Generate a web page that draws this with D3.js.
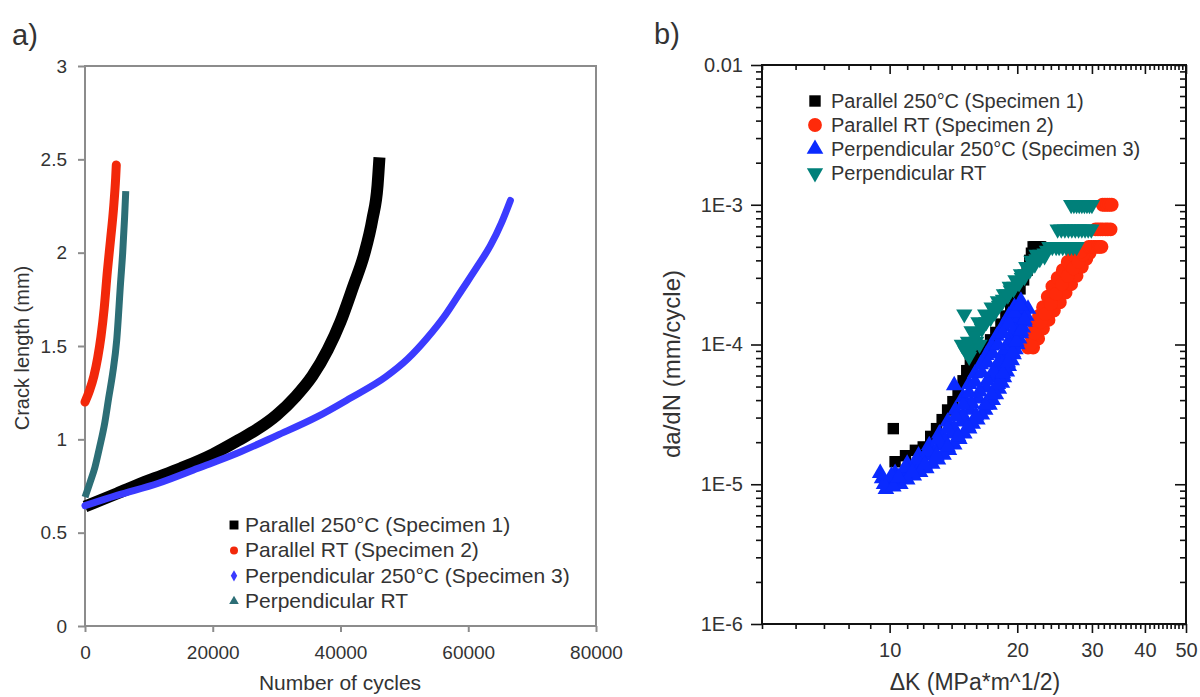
<!DOCTYPE html>
<html>
<head>
<meta charset="utf-8">
<script src="https://cdn.jsdelivr.net/npm/d3@7"></script>
<style>
  body { margin: 0; background: #fff; }
  svg { display: block; font-family: "Liberation Sans", Arial, sans-serif; }
</style>
</head>
<body>
<svg id="chart" width="1200" height="697"></svg>
<script>
// series names (same four specimens in both panels)
const seriesNames = ['Parallel 250°C (Specimen 1)', 'Parallel RT (Specimen 2)',
  'Perpendicular 250°C (Specimen 3)', 'Perpendicular RT'];

// panel a: [cycles, crack length mm]
const aParallel250 = [[0,0.64],[5000,0.71],[10000,0.78],[15000,0.845],[20000,0.92],[24000,0.995],
  [27000,1.055],[30000,1.13],[33000,1.23],[35600,1.34],[38000,1.48],[40000,1.63],[42000,1.82],
  [43700,1.99],[45000,2.18],[45800,2.36],[46100,2.51]];
const aParallelRT = [[0,1.20],[700,1.26],[1400,1.34],[2000,1.44],[2500,1.55],[3000,1.70],
  [3500,1.90],[4000,2.07],[4500,2.25],[4800,2.40],[4900,2.47]];
const aPerp250 = [[0,0.645],[5000,0.70],[11500,0.765],[17700,0.845],[23800,0.925],[30000,1.02],
  [36300,1.12],[41500,1.22],[47100,1.335],[50500,1.43],[53500,1.54],[56500,1.67],[59000,1.80],
  [61500,1.93],[63500,2.04],[65200,2.16],[66600,2.28]];
const aPerpRT = [[0,0.69],[800,0.77],[1550,0.85],[2300,0.96],[3100,1.09],[3700,1.22],[4340,1.355],
  [4960,1.53],[5570,1.84],[5900,2.0],[6200,2.19],[6380,2.33]];
const aXTicks = [0, 20000, 40000, 60000, 80000];
const aYTicks = [0, 0.5, 1, 1.5, 2, 2.5, 3];

// panel b: [dK MPa*m^1/2, da/dN mm/cycle]
const bParallel250 = [[10.2,2.5e-5],[10.3,1.45e-5],[10.9,1.6e-5],[11.5,1.75e-5],[12.0,1.85e-5],[12.5,2.2e-5],
  [12.9,2.5e-5],[13.3,2.9e-5],[13.7,3.4e-5],[14.1,3.9e-5],[14.5,4.6e-5],[14.9,5.5e-5],[15.2,6.5e-5],
  [15.5,7.3e-5],[15.9,7.8e-5],[16.3,8.4e-5],[16.8,9.5e-5],[17.3,1.08e-4],[17.8,1.22e-4],[18.3,1.4e-4],
  [18.8,1.6e-4],[19.3,1.85e-4],[19.8,2.15e-4],[20.3,2.5e-4],[20.7,2.9e-4],[21.1,3.4e-4],[21.4,4.0e-4],
  [21.6,4.5e-4],[21.8,5e-4],[22.0,5e-4],[22.3,5e-4],[22.5,5e-4],[22.7,5e-4]];
const bParallelRT = [[21.2,9.5e-5],[21.6,1.15e-4],[22.0,1.35e-4],[22.5,1.6e-4],[23.0,1.85e-4],[23.6,2.2e-4],
  [24.2,2.6e-4],[24.9,3.0e-4],[25.6,3.4e-4],[26.3,3.9e-4],[27.0,4.4e-4],
  [21.8,9.5e-5],[22.4,1.1e-4],[23.0,1.3e-4],[23.7,1.5e-4],[24.4,1.75e-4],[25.2,2.0e-4],[26.0,2.35e-4],
  [26.8,2.7e-4],[27.6,3.1e-4],[28.4,3.6e-4],[29.1,4.1e-4],[29.6,4.5e-4],
  [21.5,1.0e-4],[22.0,1.2e-4],[22.7,1.45e-4],[23.3,1.65e-4],[24.0,1.95e-4],[24.7,2.3e-4],[25.5,2.7e-4],
  [26.3,3.1e-4],[27.1,3.5e-4],[27.9,3.9e-4],[28.6,4.4e-4],[28.2,4.6e-4],
  [29.5,5e-4],[29.9,5e-4],[30.3,5e-4],[30.6,5e-4],[31.0,5e-4],[31.3,5e-4],[31.6,5e-4],
  [30.6,6.67e-4],[31.0,6.67e-4],[31.4,6.67e-4],[31.8,6.67e-4],[32.3,6.67e-4],[32.7,6.67e-4],[33.2,6.67e-4],
  [31.8,1e-3],[32.2,1e-3],[32.6,1e-3],[33.0,1e-3],[33.4,1e-3]];
const bPerp250 = [[9.6,1.1e-5],[10.3,1.2e-5],[11.0,1.4e-5],[11.7,1.6e-5],[12.4,1.9e-5],[13.1,2.3e-5],
  [13.7,2.8e-5],[14.3,3.4e-5],[14.9,4.2e-5],[15.4,5.2e-5],[15.9,6.2e-5],[16.4,7.2e-5],[16.9,8.4e-5],
  [17.4,9.8e-5],[17.9,1.15e-4],[18.5,1.35e-4],[19.1,1.6e-4],[19.7,1.85e-4],[20.4,2.05e-4],
  [9.8,9.2e-6],[10.6,1.0e-5],[11.4,1.15e-5],[12.2,1.3e-5],[13.0,1.5e-5],[13.8,1.75e-5],[14.6,2.1e-5],
  [15.4,2.5e-5],[16.1,2.9e-5],[16.8,3.4e-5],[17.5,4.0e-5],[18.1,4.8e-5],[18.6,5.8e-5],[19.1,7.0e-5],
  [19.6,8.5e-5],[20.0,1.0e-4],[20.4,1.2e-4],[20.8,1.45e-4],[21.2,1.8e-4],
  [10.0,1.05e-5],[10.8,1.2e-5],[11.6,1.35e-5],[12.4,1.6e-5],[13.2,1.9e-5],[14.0,2.3e-5],[14.8,2.8e-5],
  [15.5,3.4e-5],[16.2,4.1e-5],[16.9,4.9e-5],[17.5,5.8e-5],[18.1,6.9e-5],[18.6,8.2e-5],[19.2,9.8e-5],
  [19.7,1.15e-4],[20.2,1.35e-4],[20.7,1.6e-4],
  [9.7,1.0e-5],[10.4,1.1e-5],[11.2,1.25e-5],[12.0,1.45e-5],[12.8,1.7e-5],[13.5,2.05e-5],[14.2,2.5e-5],
  [14.9,3.1e-5],[15.6,3.8e-5],[16.3,4.6e-5],[17.0,5.5e-5],[17.6,6.5e-5],[18.2,7.8e-5],[18.7,9.2e-5],
  [19.2,1.08e-4],[19.7,1.3e-4],[20.2,1.55e-4],[20.6,1.8e-4],
  [10.2,9.6e-6],[11.0,1.08e-5],[11.8,1.22e-5],[12.6,1.4e-5],[13.4,1.62e-5],[14.2,1.92e-5],[15.0,2.3e-5],
  [15.7,2.7e-5],[16.5,3.15e-5],[17.2,3.7e-5],[17.8,4.4e-5],[18.4,5.3e-5],[18.9,6.4e-5],[19.4,7.7e-5],
  [19.8,9.2e-5],[20.2,1.1e-4],[20.6,1.32e-4],[21.0,1.6e-4],
  [10.1,1.15e-5],[10.9,1.32e-5],[11.6,1.5e-5],[12.3,1.75e-5],[13.0,2.1e-5],[13.7,2.5e-5],[14.3,3.05e-5],
  [14.9,3.7e-5],[15.4,4.5e-5],[15.9,5.4e-5],[16.5,6.3e-5],[17.0,7.4e-5],[17.5,8.6e-5],[18.0,1.0e-4],
  [18.5,1.2e-4],[19.1,1.42e-4],[19.7,1.68e-4],[20.3,1.9e-4],
  [10.5,1.12e-5],[11.3,1.22e-5],[12.1,1.38e-5],[12.9,1.6e-5],[13.7,1.85e-5],[14.5,2.2e-5],[15.3,2.6e-5],
  [16.0,3.1e-5],[16.8,3.7e-5],[17.4,4.4e-5],[18.0,5.2e-5],[18.5,6.2e-5],[19.0,7.4e-5],[19.5,8.8e-5],
  [19.9,1.05e-4],[20.4,1.25e-4],[20.8,1.5e-4],
  [9.5,1.2e-5],[14.2,5.1e-5]];
const bPerpRT = [[15.0,1.65e-4],[14.8,1.0e-4],[15.1,9.0e-5],[15.4,8.2e-5],[15.7,9.5e-5],[16.0,1.05e-4],
  [16.3,1.0e-4],[16.0,1.2e-4],[16.5,1.3e-4],[16.9,1.45e-4],[17.3,1.55e-4],[17.7,1.7e-4],[18.1,1.9e-4],
  [18.5,2.1e-4],[18.9,2.3e-4],[19.3,2.45e-4],[19.7,2.6e-4],[20.1,2.8e-4],[20.5,3.0e-4],[20.9,3.2e-4],
  [21.3,3.5e-4],[21.7,3.8e-4],[22.2,4.1e-4],[22.7,4.4e-4],[23.2,4.5e-4],[23.5,4.7e-4],
  [15.6,1.25e-4],[16.2,1.45e-4],[16.8,1.65e-4],[17.4,1.85e-4],[18.0,2.05e-4],[18.6,2.3e-4],[19.2,2.6e-4],
  [19.8,2.9e-4],[20.4,3.2e-4],[21.0,3.6e-4],[21.6,4.0e-4],[22.2,4.4e-4],
  [15.3,1.05e-4],[15.9,1.15e-4],[16.6,1.38e-4],[17.2,1.6e-4],[17.8,1.8e-4],[18.4,2.0e-4],[19.0,2.25e-4],
  [19.6,2.5e-4],[20.2,2.75e-4],[20.8,3.05e-4],[21.4,3.4e-4],[22.0,3.75e-4],[22.6,4.1e-4],[23.2,4.3e-4],
  [23.8,5e-4],[24.2,5e-4],[24.7,5e-4],[25.1,5e-4],[25.6,5e-4],[26.1,5e-4],[26.6,5e-4],[27.1,5e-4],[27.6,5e-4],
  [24.9,6.67e-4],[25.4,6.67e-4],[25.9,6.67e-4],[26.4,6.67e-4],[26.9,6.67e-4],[27.4,6.67e-4],[27.9,6.67e-4],
  [28.4,6.67e-4],[28.9,6.67e-4],[29.4,6.67e-4],[29.9,6.67e-4],
  [26.8,1e-3],[27.2,1e-3],[27.6,1e-3],[28.0,1e-3],[28.4,1e-3],[28.8,1e-3],[29.2,1e-3],[29.6,1e-3],[30.0,1e-3]];
const bXMajor = [10, 20, 30, 40, 50];
const bYMajor = [1e-6, 1e-5, 1e-4, 1e-3, 1e-2];
const bYLabels = ['1E-6', '1E-5', '1E-4', '1E-3', '0.01'];

const svg = d3.select('#chart');
const textColor = '#333';

// ================= panel a =================
const xA = d3.scaleLinear().domain([0, 80000]).range([85, 596]);
const yA = d3.scaleLinear().domain([0, 3]).range([626, 66]);
const greyAxis = '#8c8c8c';

const gA = svg.append('g');

gA.append('g')
  .attr('transform', 'translate(0,626)')
  .call(d3.axisBottom(xA).tickValues(aXTicks).tickSize(6).tickPadding(14).tickFormat(d => d))
  .call(g => g.select('.domain').remove());
gA.append('g')
  .attr('transform', 'translate(85,0)')
  .call(d3.axisLeft(yA).tickValues(aYTicks).tickSize(7).tickPadding(11).tickFormat(d => d))
  .call(g => g.select('.domain').remove());
gA.selectAll('.tick line').attr('stroke', greyAxis).attr('stroke-width', 2);
gA.selectAll('.tick text').attr('fill', textColor).style('font-size', '19px')
  .style('font-family', '"Liberation Sans", Arial, sans-serif');

gA.append('rect')
  .attr('x', xA(0)).attr('y', yA(3))
  .attr('width', xA(80000) - xA(0)).attr('height', yA(0) - yA(3))
  .attr('fill', 'none').attr('stroke', greyAxis).attr('stroke-width', 2);

const lineA = d3.line().x(d => xA(d[0])).y(d => yA(d[1])).curve(d3.curveMonotoneX);
const aCurves = [
  { data: aParallel250, color: '#000000', width: 12, cap: 'butt' },
  { data: aParallelRT, color: '#f2280a', width: 9, cap: 'round' },
  { data: aPerp250, color: '#3b3bff', width: 7, cap: 'round' },
  { data: aPerpRT, color: '#2c6e76', width: 7, cap: 'butt' }
];
gA.selectAll('path.curve')
  .data(aCurves)
  .join('path')
  .attr('class', 'curve')
  .attr('d', d => lineA(d.data))
  .attr('fill', 'none')
  .attr('stroke', d => d.color)
  .attr('stroke-width', d => d.width)
  .attr('stroke-linecap', d => d.cap)
  .attr('stroke-linejoin', 'round');

// legend a
const aLegendSym = [
  d3.symbol(d3.symbolSquare, 80),
  d3.symbol(d3.symbolCircle, 50),
  d3.symbol(d3.symbolDiamond, 36),
  d3.symbol(d3.symbolTriangle, 40)
];
const aLegend = gA.selectAll('g.leg')
  .data(seriesNames)
  .join('g')
  .attr('class', 'leg')
  .attr('transform', (d, i) => `translate(234,${532 + i * 25.4})`);
aLegend.append('path')
  .attr('d', (d, i) => aLegendSym[i]())
  .attr('transform', 'translate(0,-7)')
  .attr('fill', (d, i) => aCurves[i].color);
aLegend.append('text')
  .attr('x', 11)
  .attr('fill', textColor)
  .style('font-size', '21px')
  .text(d => d);

gA.append('text')
  .attr('x', 340).attr('y', 690)
  .attr('text-anchor', 'middle')
  .attr('fill', textColor)
  .style('font-size', '21px')
  .text('Number of cycles');
gA.append('text')
  .attr('transform', 'translate(29,348) rotate(-90)')
  .attr('text-anchor', 'middle')
  .attr('fill', textColor)
  .style('font-size', '20px')
  .text('Crack length (mm)');
gA.append('text')
  .attr('x', 12).attr('y', 45)
  .attr('fill', textColor)
  .style('font-size', '29px')
  .text('a)');

// ================= panel b =================
const xB = d3.scaleLog().domain([5, 50]).range([762, 1186]);
const yB = d3.scaleLog().domain([1e-6, 1e-2]).range([624, 65]);
const gB = svg.append('g');

const xMinor = d3.range(5, 51).filter(v => !bXMajor.includes(v));
const yMinor = yB.ticks().filter(v => !bYMajor.some(m => Math.abs(m - v) / m < 1e-6));

// bottom + top
gB.append('g').attr('transform', 'translate(0,624)')
  .call(d3.axisBottom(xB).tickValues(xMinor).tickSize(5).tickFormat(''));
gB.append('g').attr('transform', 'translate(0,624)')
  .call(d3.axisBottom(xB).tickValues(bXMajor).tickSize(9).tickPadding(10).tickFormat(d => d));
gB.append('g').attr('transform', 'translate(0,65)')
  .call(d3.axisBottom(xB).tickValues(xMinor).tickSize(5).tickFormat(''));
gB.append('g').attr('transform', 'translate(0,65)')
  .call(d3.axisBottom(xB).tickValues(bXMajor).tickSize(9).tickFormat(''));
// left + right
gB.append('g').attr('transform', 'translate(762,0)')
  .call(d3.axisLeft(yB).tickValues(yMinor).tickSize(6).tickFormat(''));
gB.append('g').attr('transform', 'translate(762,0)')
  .call(d3.axisLeft(yB).tickValues(bYMajor).tickSize(11).tickPadding(8)
    .tickFormat((d, i) => bYLabels[i]));
gB.append('g').attr('transform', 'translate(1186,0)')
  .call(d3.axisLeft(yB).tickValues(yMinor).tickSize(6).tickFormat(''));
gB.append('g').attr('transform', 'translate(1186,0)')
  .call(d3.axisLeft(yB).tickValues(bYMajor).tickSize(11).tickFormat(''));

gB.selectAll('.domain').remove();
gB.selectAll('.tick line').attr('stroke', '#111').attr('stroke-width', 1.6);
gB.selectAll('.tick text').attr('fill', textColor).style('font-size', '20px')
  .style('font-family', '"Liberation Sans", Arial, sans-serif');

gB.append('rect')
  .attr('x', 762).attr('y', 65)
  .attr('width', 1186 - 762).attr('height', 624 - 65)
  .attr('fill', 'none').attr('stroke', '#111').attr('stroke-width', 2);

const bSets = [
  { data: bParallel250, color: '#000000', sym: d3.symbol(d3.symbolSquare, 130), rot: 0 },
  { data: bParallelRT, color: '#ff2a0a', sym: d3.symbol(d3.symbolCircle, 150), rot: 0 },
  { data: bPerp250, color: '#0a2aff', sym: d3.symbol(d3.symbolTriangle, 120), rot: 0 },
  { data: bPerpRT, color: '#00807a', sym: d3.symbol(d3.symbolTriangle, 115), rot: 180 }
];
bSets.forEach(s => {
  gB.append('g')
    .selectAll('path')
    .data(s.data)
    .join('path')
    .attr('d', s.sym())
    .attr('transform', d => `translate(${xB(d[0])},${yB(d[1])}) rotate(${s.rot})`)
    .attr('fill', s.color);
});

// legend b
const bLegend = gB.selectAll('g.legb')
  .data(seriesNames)
  .join('g')
  .attr('class', 'legb')
  .attr('transform', (d, i) => `translate(815,${108 + i * 24})`);
bLegend.append('path')
  .attr('d', (d, i) => bSets[i].sym())
  .attr('transform', (d, i) => `translate(0,-7) rotate(${bSets[i].rot})`)
  .attr('fill', (d, i) => bSets[i].color);
bLegend.append('text')
  .attr('x', 16)
  .attr('fill', textColor)
  .style('font-size', '20px')
  .text(d => d);

gB.append('text')
  .attr('x', 975).attr('y', 690)
  .attr('text-anchor', 'middle')
  .attr('fill', textColor)
  .style('font-size', '23px')
  .text('ΔK (MPa*m^1/2)');
gB.append('text')
  .attr('transform', 'translate(680,364) rotate(-90)')
  .attr('text-anchor', 'middle')
  .attr('fill', textColor)
  .style('font-size', '24px')
  .text('da/dN (mm/cycle)');
gB.append('text')
  .attr('x', 654).attr('y', 44)
  .attr('fill', textColor)
  .style('font-size', '29px')
  .text('b)');
</script>
</body>
</html>
